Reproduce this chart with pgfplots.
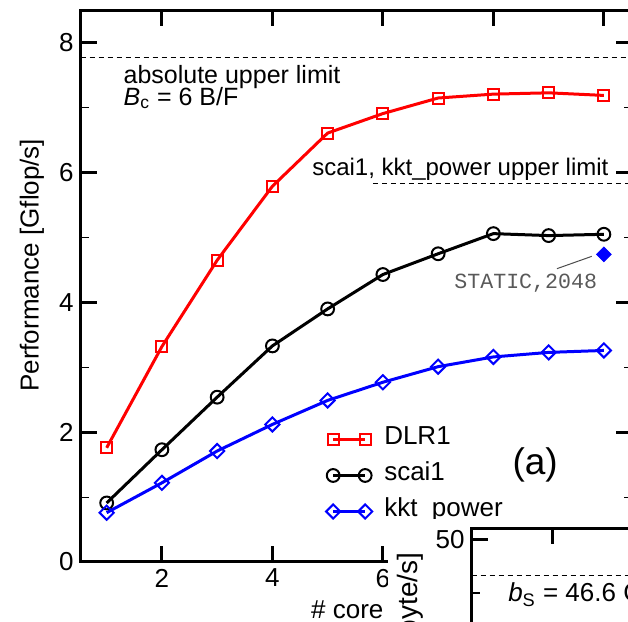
\documentclass[border=0pt]{standalone}
\usepackage{fontspec}
\setmainfont{Liberation Sans}
\newfontfamily\monofont{Liberation Mono}
\usepackage{pgfplots}
\pgfplotsset{compat=1.18}

\pgfplotsset{
  myaxis/.style={
    scale only axis,
    axis line style={line width=1.5pt},
    tick align=inside,
    xtick pos=both, ytick pos=both,
    xticklabel pos=lower, yticklabel pos=left,
    major tick length=8pt, minor tick length=4pt,
    every tick/.style={black, line width=1.5pt},
    every minor tick/.style={black, line width=0.6pt},
    tick label style={font=\fontsize{13}{15}\selectfont},
    /pgf/number format/assume math mode=true,
  },
}

\begin{document}
\begin{tikzpicture}
\useasboundingbox (-40.35pt,-30pt) rectangle (273.65pt,281pt);
\clip (-40.35pt,-30pt) rectangle (273.65pt,281pt);

\begin{axis}[
    myaxis,
    at={(0pt,0pt)}, anchor=south west,
    width=275.4pt, height=275.8pt,
    xmin=0.53, xmax=10.5, ymin=0, ymax=8.5,
    xtick={2,4,6,8,10}, ytick={0,2,4,6,8},
    minor ytick={1,3,5,7},
    xlabel={\# core},
    ylabel={Performance [Gflop/s]},
    every axis x label/.style={at={(axis description cs:0.484,-0.0857)}, anchor=center, font=\fontsize{13}{15}\selectfont},
    every axis y label/.style={at={(axis description cs:-0.0887,0.538)}, rotate=90, anchor=center, font=\fontsize{13}{15}\selectfont},
    legend style={at={(axis cs:4.965,2.11)}, anchor=north west, draw=none, fill=none,
        font=\fontsize{13}{15}\selectfont, inner sep=0pt, row sep=4pt, column sep=4pt,
        nodes={inner sep=2pt, text height=0.75em, text depth=0.25em}},
    legend cell align=left,
    legend image code/.code={\draw[#1] plot coordinates {(0pt,0pt) (16pt,0pt)};},
]

% DLR1
\addplot[red, line width=1.5pt, mark=square, mark size=2.75pt,
    mark options={solid, fill=white, line width=1pt}] coordinates {
    (1,1.76) (2,3.32) (3,4.65) (4,5.79) (5,6.61)
    (6,6.91) (7,7.15) (8,7.21) (9,7.23) (10,7.19)
};
% scai1
\addplot[black, line width=1.5pt, mark=o, mark size=3.2pt,
    mark options={solid, fill=white, line width=1pt}] coordinates {
    (1,0.91) (2,1.73) (3,2.54) (4,3.33) (5,3.90)
    (6,4.43) (7,4.75) (8,5.06) (9,5.03) (10,5.05)
};
% kkt_power
\addplot[blue, line width=1.5pt, mark=square, mark size=2.5pt,
    mark options={solid, fill=white, line width=1pt, rotate=45}] coordinates {
    (1,0.76) (2,1.22) (3,1.71) (4,2.12) (5,2.49)
    (6,2.77) (7,3.01) (8,3.16) (9,3.23) (10,3.26)
};
\legend{DLR1, scai1, kkt\_power}

% STATIC,2048 point
\addplot[blue, only marks, mark=square*, mark size=2.6pt, mark options={rotate=45}, forget plot]
    coordinates {(10,4.74)};

% upper limits
\addplot[black, line width=0.5pt, dash pattern=on 2.5pt off 2pt, forget plot]
    coordinates {(0.53,7.77) (10.5,7.77)};
\addplot[black, line width=0.5pt, dash pattern=on 2.5pt off 2pt, forget plot]
    coordinates {(5.82,5.83) (10.5,5.83)};

\node[anchor=base west, inner sep=0pt, font=\fontsize{12.5}{15}\selectfont] at (axis cs:1.30,7.37) {absolute upper limit};
\node[anchor=base west, inner sep=0pt, font=\fontsize{12.5}{15}\selectfont] at (axis cs:1.30,7.04) {\textit{B}\textsubscript{c} = 6 B/F};
\node[anchor=base west, inner sep=0pt, font=\fontsize{12}{15}\selectfont] at (axis cs:4.715,5.96) {scai1, kkt\_power upper limit};
\node[font=\monofont\fontsize{10.8}{12}\selectfont, text=black!65] at (axis cs:8.585,4.29) {STATIC,2048};
\draw[line width=0.5pt, black!70] (axis cs:9.15,4.52) -- (axis cs:9.78,4.71);
\node[font=\fontsize{18.5}{22}\selectfont] at (axis cs:8.757,1.49) {(a)};
\end{axis}

% white area behind the inset
\fill[white] (153.65pt,21.35pt) rectangle (300pt,-40pt);

\begin{axis}[
    myaxis,
    at={(195.5pt,16.85pt)}, anchor=north west,
    width=175.5pt, height=59.4pt,
    xmin=0.5, xmax=7, ymin=40, ymax=51,
    xtick={2,4,6}, ytick={40,50}, minor ytick={45},
    axis background/.style={fill=white},
]
\addplot[black, line width=0.5pt, dash pattern=on 2.5pt off 2pt, forget plot]
    coordinates {(0.5,46.6) (7,46.6)};
\node[anchor=base west, inner sep=0pt, font=\fontsize{13}{15}\selectfont] at (axis cs:1.17,44.18) {\textit{b}\textsubscript{S} = 46.6 GB/s};
\end{axis}

\node[rotate=90, anchor=east, inner sep=0pt, font=\fontsize{14}{16}\selectfont] at (165pt,4.85pt) {Bandwidth [Gbyte/s]};
\end{tikzpicture}
\end{document}
